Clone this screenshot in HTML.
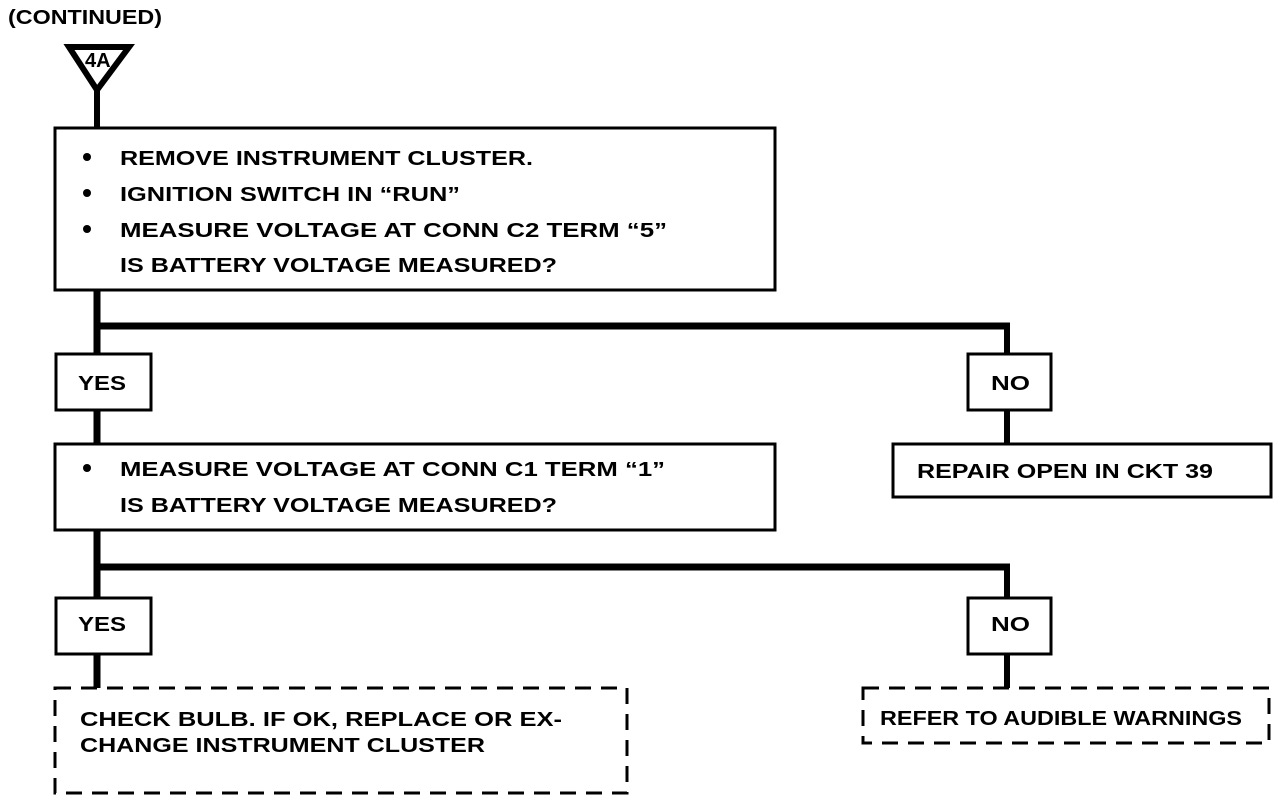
<!DOCTYPE html>
<html><head><style>html,body{margin:0;padding:0;background:#fff}svg{display:block}
text{font-family:"Liberation Sans",sans-serif;font-weight:bold;font-size:20px;fill:#000}</style></head>
<body>
<svg width="1280" height="802" viewBox="0 0 1280 802" xmlns="http://www.w3.org/2000/svg">
<text x="8" y="24" font-size="17" textLength="154" lengthAdjust="spacingAndGlyphs">(CONTINUED)</text>
<polygon points="69,47 129,47 97,90" fill="none" stroke="#000" stroke-width="6" stroke-linejoin="miter"/>
<text x="85" y="67" font-size="13">4A</text>
<g stroke="#000" fill="none">
<line x1="97" y1="88" x2="97" y2="128" stroke-width="6"/>
<rect x="55" y="128" width="720" height="162" stroke-width="3"/>
<line x1="97" y1="290" x2="97" y2="353" stroke-width="7"/>
<line x1="94" y1="326" x2="1010" y2="326" stroke-width="7"/>
<line x1="1007" y1="326" x2="1007" y2="353" stroke-width="6"/>
<rect x="56" y="354" width="95" height="56" stroke-width="3"/>
<rect x="968" y="354" width="83" height="56" stroke-width="3"/>
<line x1="97" y1="410" x2="97" y2="443" stroke-width="7"/>
<line x1="1007" y1="410" x2="1007" y2="443" stroke-width="6"/>
<rect x="55" y="444" width="720" height="86" stroke-width="3"/>
<rect x="893" y="444" width="378" height="53" stroke-width="3"/>
<line x1="97" y1="530" x2="97" y2="597" stroke-width="7"/>
<line x1="94" y1="567" x2="1010" y2="567" stroke-width="7"/>
<line x1="1007" y1="567" x2="1007" y2="597" stroke-width="6"/>
<rect x="56" y="598" width="95" height="56" stroke-width="3"/>
<rect x="968" y="598" width="83" height="56" stroke-width="3"/>
<line x1="97" y1="654" x2="97" y2="688" stroke-width="7"/>
<line x1="1007" y1="654" x2="1007" y2="688" stroke-width="6"/>
<rect x="55" y="688" width="572" height="105" stroke-width="3" stroke-dasharray="16,10"/>
<rect x="863" y="688" width="406" height="55" stroke-width="3" stroke-dasharray="16,10"/>
</g>
<g fill="#000"><circle cx="87" cy="157" r="4"/><circle cx="87" cy="193" r="4"/><circle cx="87" cy="229" r="4"/><circle cx="87" cy="468" r="4"/></g>
<text x="120" y="165" textLength="413" lengthAdjust="spacingAndGlyphs">REMOVE INSTRUMENT CLUSTER.</text>
<text x="120" y="201" textLength="340" lengthAdjust="spacingAndGlyphs">IGNITION SWITCH IN “RUN”</text>
<text x="120" y="237" textLength="547" lengthAdjust="spacingAndGlyphs">MEASURE VOLTAGE AT CONN C2 TERM “5”</text>
<text x="120" y="272" textLength="437" lengthAdjust="spacingAndGlyphs">IS BATTERY VOLTAGE MEASURED?</text>
<text x="78" y="390" textLength="48" lengthAdjust="spacingAndGlyphs">YES</text>
<text x="991" y="390" textLength="39" lengthAdjust="spacingAndGlyphs">NO</text>
<text x="120" y="476" textLength="545" lengthAdjust="spacingAndGlyphs">MEASURE VOLTAGE AT CONN C1 TERM “1”</text>
<text x="120" y="512" textLength="437" lengthAdjust="spacingAndGlyphs">IS BATTERY VOLTAGE MEASURED?</text>
<text x="917" y="478" textLength="296" lengthAdjust="spacingAndGlyphs">REPAIR OPEN IN CKT 39</text>
<text x="78" y="631" textLength="48" lengthAdjust="spacingAndGlyphs">YES</text>
<text x="991" y="631" textLength="39" lengthAdjust="spacingAndGlyphs">NO</text>
<text x="80" y="726" textLength="482" lengthAdjust="spacingAndGlyphs">CHECK BULB.  IF OK, REPLACE OR EX-</text>
<text x="80" y="752" textLength="405" lengthAdjust="spacingAndGlyphs">CHANGE INSTRUMENT CLUSTER</text>
<text x="880" y="725" textLength="362" lengthAdjust="spacingAndGlyphs">REFER TO AUDIBLE WARNINGS</text>
</svg>
</body></html>
